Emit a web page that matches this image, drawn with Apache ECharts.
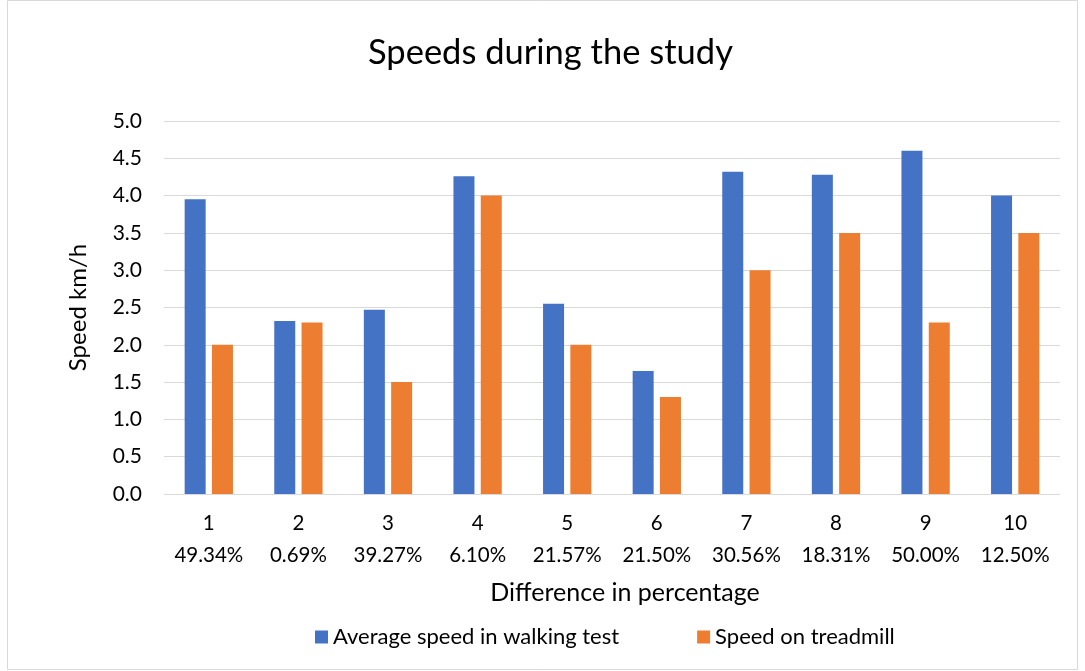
<!DOCTYPE html>
<html><head><meta charset="utf-8">
<script src="https://cdn.jsdelivr.net/npm/echarts@6/dist/echarts.min.js"></script>
<style>html,body{margin:0;padding:0;background:#fff}#c{width:1085px;height:671px}</style>
</head><body><div id="c"></div>
<script>
var categories = ['1\n49.34%','2\n0.69%','3\n39.27%','4\n6.10%','5\n21.57%','6\n21.50%','7\n30.56%','8\n18.31%','9\n50.00%','10\n12.50%'];
var walking = [3.95, 2.32, 2.47, 4.26, 2.55, 1.65, 4.32, 4.28, 4.60, 4.00];
var treadmill = [2.0, 2.3, 1.5, 4.0, 2.0, 1.3, 3.0, 3.5, 2.3, 3.5];
var FONT = 'Lato, "Noto Sans", sans-serif';
var chart = echarts.init(document.getElementById('c'));
chart.setOption({
  backgroundColor: '#fff',
  textStyle: {fontFamily: FONT},
  graphic: [{type:'rect', shape:{x:7.5,y:0.5,width:1070,height:669}, style:{fill:'none', stroke:'#d9d9d9', lineWidth:1}, silent:true}],
  title: {text: 'Speeds during the study', left: 363, top: 30, textStyle:{fontFamily:FONT, fontSize:34.5, fontWeight:'normal', color:'#000'}},
  legend: {bottom: 18, left: 310, itemWidth: 13, itemHeight: 13, itemGap: 78, icon: 'rect',
    textStyle: {fontFamily: FONT, fontSize: 22, color: '#000'},
    data: ['Average speed in walking test', 'Speed on treadmill']},
  grid: {left: 164, right: 25, top: 121, bottom: 177},
  xAxis: {type: 'category', data: categories,
    axisLine: {lineStyle: {color: '#d9d9d9'}}, axisTick: {show: false},
    axisLabel: {interval: 0, hideOverlap: false, fontFamily: FONT, fontSize: 20.5, color: '#000', lineHeight: 32, margin: 13},
    name: 'Difference in percentage', nameLocation: 'middle', nameGap: 86,
    nameTextStyle: {fontFamily: FONT, fontSize: 25, color: '#000', padding: [0, 0, 0, 26]}},
  yAxis: {type: 'value', min: 0, max: 5, interval: 0.5,
    axisLine: {show: false}, axisTick: {show: false},
    splitLine: {lineStyle: {color: '#d9d9d9'}},
    axisLabel: {fontFamily: FONT, fontSize: 21, color: '#000', margin: 22, formatter: function(v){return v.toFixed(1);}},
    name: 'Speed km/h', nameLocation: 'middle', nameGap: 74,
    nameTextStyle: {fontFamily: FONT, fontSize: 24, color: '#000'}},
  series: [
    {name: 'Average speed in walking test', type: 'bar', data: walking, barWidth: 21, barGap: '30%', itemStyle: {color: '#4472c4'}},
    {name: 'Speed on treadmill', type: 'bar', data: treadmill, barWidth: 21, itemStyle: {color: '#ed7d31'}}
  ]
});
</script></body></html>
